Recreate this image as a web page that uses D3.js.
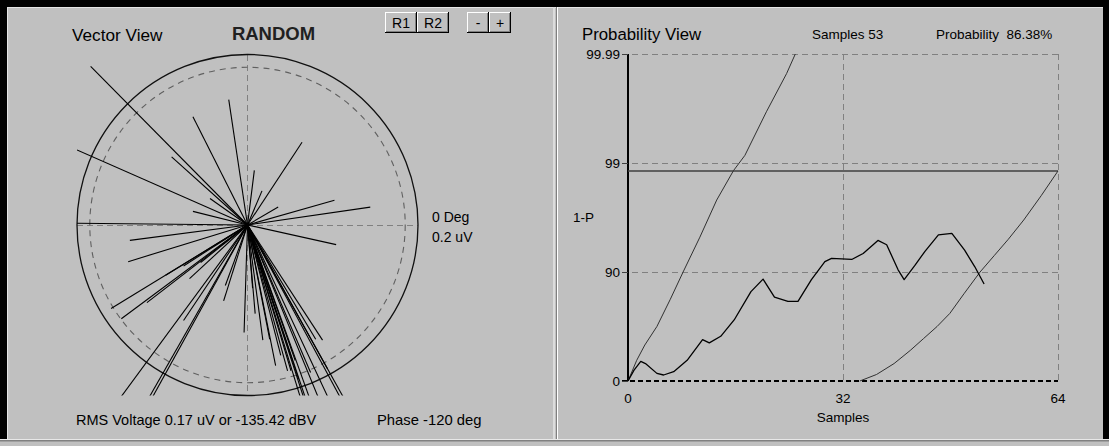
<!DOCTYPE html>
<html><head><meta charset="utf-8">
<script src="https://cdn.jsdelivr.net/npm/d3@7"></script>
<style>
html,body{margin:0;padding:0;background:#c0c0c0;overflow:hidden;}
svg{display:block;font-family:"Liberation Sans",Arial,sans-serif;}
</style>
</head><body>
<svg id="chart" width="1109" height="446"></svg>
<script>
// ---------------- DATA ----------------
// Vector view: 53 sample vectors, real / imaginary parts in uV
const vecRe = [-0.184,-0.200,-0.064,-0.022,-0.089,-0.044,-0.064,-0.200,0.064,0.008,0.017,0.036,0.102,0.144,
  -0.138,-0.140,-0.160,-0.148,-0.068,-0.026,-0.028,-0.075,-0.156,-0.121,-0.117,-0.004,-0.118,-0.075,-0.096,
  0.104,0.009,0.006,0.026,0.047,0.051,0.080,0.060,0.069,0.076,0.099,0.114,0.118,0.065,0.071,0.094,0.039,0.088,0.056,0.074,0.018,0.033,0.087,-0.055];
const vecIm = [0.186,0.088,0.127,0.147,0.080,0.031,0.016,0.002,0.097,0.064,0.040,0.021,0.029,0.021,
  -0.018,-0.043,-0.098,-0.110,-0.063,-0.071,-0.089,-0.112,-0.212,-0.212,-0.212,-0.126,-0.091,-0.048,-0.059,
  -0.023,-0.104,-0.074,-0.134,-0.171,-0.171,-0.134,-0.181,-0.212,-0.212,-0.212,-0.212,-0.212,-0.212,-0.212,-0.169,-0.153,-0.135,-0.159,-0.173,-0.135,-0.165,-0.212,-0.044];
const ringSolid = 0.2;      // uV, outer circle
const ringDashed = 0.185;   // uV, dashed circle

// Probability view (y in decade levels: 0 -> "0", 1 -> "90", 2 -> "99", 3 -> "99.99")
const walkSamples = [0,0.9,1.9,2.6,4.3,5.3,6.8,8.8,11.1,12.1,13.8,15.8,18.3,20.1,21.8,23.8,25.3,27.3,29.3,30.3,33.3,35.0,37.2,38.5,40.2,41.1,42.7,44.2,46.2,48.2,50.1,51.6,53];
const walkLevels  = [0,0.10,0.18,0.16,0.07,0.055,0.085,0.19,0.38,0.35,0.41,0.56,0.82,0.935,0.77,0.73,0.73,0.93,1.095,1.125,1.115,1.17,1.29,1.25,1.02,0.93,1.06,1.19,1.34,1.355,1.20,1.05,0.89];
const upperSamples = [0,1.3,2.5,4.3,6.3,8.2,10.7,13.2,15.7,17.4,20.6,23.6,24.9];
const upperLevels  = [0,0.19,0.33,0.5,0.75,1.0,1.32,1.66,1.93,2.07,2.47,2.82,3.0];
const lowerSamples = [34.5,37,39.6,42,44,46,47.9,50,52.4,54.5,56.6,58.9,61.5,64];
const lowerLevels  = [0,0.06,0.16,0.28,0.39,0.5,0.62,0.8,1.0,1.15,1.30,1.477,1.70,1.927];
const thresholdLevel = 1.927;
const yTickLevels = [0,1,2,3];
const yTickLabels = ["0","90","99","99.99"];
const xTickValues = [0,32,64];

const buttonLabels = ["R1","R2","-","+"];

// ---------------- DRAW ----------------
const svg = d3.select("#chart");
const W = 1109, H = 446;

// frame
svg.append("rect").attr("x",0).attr("y",0).attr("width",W).attr("height",H).attr("fill","#c0c0c0");
svg.append("rect").attr("x",0).attr("y",0).attr("width",W).attr("height",7).attr("fill","#000");
svg.append("rect").attr("x",0).attr("y",0).attr("width",7).attr("height",441).attr("fill","#000");
svg.append("rect").attr("x",1103).attr("y",0).attr("width",6).attr("height",441).attr("fill","#000");
// bevels
const bev = svg.append("g").attr("shape-rendering","crispEdges");
bev.append("line").attr("x1",7).attr("x2",1103).attr("y1",7.5).attr("y2",7.5).attr("stroke","#e4e4e4");
bev.append("line").attr("x1",7.5).attr("x2",7.5).attr("y1",7).attr("y2",440).attr("stroke","#e4e4e4");
bev.append("line").attr("x1",553.5).attr("x2",553.5).attr("y1",7).attr("y2",440).attr("stroke","#dcdcdc");
bev.append("line").attr("x1",554.5).attr("x2",554.5).attr("y1",7).attr("y2",440).attr("stroke","#dcdcdc");
bev.append("line").attr("x1",556.5).attr("x2",556.5).attr("y1",7).attr("y2",440).attr("stroke","#808080");
bev.append("line").attr("x1",557.5).attr("x2",557.5).attr("y1",7).attr("y2",440).attr("stroke","#ffffff");
bev.append("line").attr("x1",0).attr("x2",W).attr("y1",439.5).attr("y2",439.5).attr("stroke","#e8e8e8");
bev.append("line").attr("x1",0).attr("x2",W).attr("y1",440.5).attr("y2",440.5).attr("stroke","#808080");
bev.append("line").attr("x1",0).attr("x2",W).attr("y1",441.5).attr("y2",441.5).attr("stroke","#a0a0a0");

// ---------- Vector View ----------
const cx = 247.5, cy = 225, R = 170.5;
const rad = d3.scaleLinear().domain([0, ringSolid]).range([0, R]);
const vx = d3.scaleLinear().domain([-ringSolid, ringSolid]).range([cx - R, cx + R]);
const vy = d3.scaleLinear().domain([-ringSolid, ringSolid]).range([cy + R, cy - R]);

const defs = svg.append("defs");
defs.append("clipPath").attr("id","vclip").append("rect")
  .attr("x", vx(-ringSolid)).attr("y", vy(ringSolid))
  .attr("width", vx(ringSolid)-vx(-ringSolid)).attr("height", vy(-ringSolid)-vy(ringSolid));

const vg = svg.append("g");
// crosshair
vg.append("line").attr("x1",vx(-ringSolid)).attr("x2",vx(ringSolid)).attr("y1",vy(0)).attr("y2",vy(0))
  .attr("stroke","#808080").attr("stroke-dasharray","6,4").attr("shape-rendering","crispEdges");
vg.append("line").attr("x1",vx(0)).attr("x2",vx(0)).attr("y1",vy(ringSolid)).attr("y2",vy(-ringSolid))
  .attr("stroke","#808080").attr("stroke-dasharray","6,4").attr("shape-rendering","crispEdges");
vg.append("circle").attr("cx",vx(0)).attr("cy",vy(0)).attr("r",rad(ringDashed))
  .attr("fill","none").attr("stroke","#606060").attr("stroke-width",1.1).attr("stroke-dasharray","6,5");
vg.append("circle").attr("cx",vx(0)).attr("cy",vy(0)).attr("r",rad(ringSolid))
  .attr("fill","none").attr("stroke","#101010").attr("stroke-width",1.3);

const vecs = vecRe.map((re,i)=>({re, im: vecIm[i]}));
vg.append("g").attr("clip-path","url(#vclip)")
  .selectAll("line").data(vecs).join("line")
  .attr("x1",vx(0)).attr("y1",vy(0))
  .attr("x2",d=>vx(d.re)).attr("y2",d=>vy(d.im))
  .attr("stroke","#000").attr("stroke-width",1.1);

// texts left
svg.append("text").attr("x",72).attr("y",41).attr("font-size",17.2).text("Vector View");
svg.append("text").attr("x",273.5).attr("y",39.5).attr("text-anchor","middle").attr("font-size",18.5)
  .attr("font-weight","bold").attr("fill","#202020").text("RANDOM");
svg.append("text").attr("x",432).attr("y",222).attr("font-size",14).text("0 Deg");
svg.append("text").attr("x",432).attr("y",242).attr("font-size",14).text(ringSolid + " uV");
svg.append("text").attr("x",76).attr("y",425).attr("font-size",14.5).text("RMS Voltage 0.17 uV or -135.42 dBV");
svg.append("text").attr("x",377).attr("y",425).attr("font-size",14.8).text("Phase -120 deg");

// buttons
const btnX = [385, 417, 467, 488.5], btnW = [32, 31.5, 21.5, 22];
const bg = svg.append("g").attr("shape-rendering","crispEdges");
buttonLabels.forEach((lab,i)=>{
  const x0 = Math.round(btnX[i]), x1 = Math.round(btnX[i]+btnW[i]), y0 = 12, y1 = 33;
  bg.append("rect").attr("x",x0).attr("y",y0).attr("width",x1-x0).attr("height",y1-y0).attr("fill","#c0c0c0");
  bg.append("path").attr("d",`M${x0+0.5},${y1-1}V${y0+0.5}H${x1-1}`).attr("fill","none").attr("stroke","#fff");
  bg.append("path").attr("d",`M${x0},${y1-0.5}H${x1-0.5}V${y0}`).attr("fill","none").attr("stroke","#000");
  bg.append("path").attr("d",`M${x0+1},${y1-1.5}H${x1-1.5}V${y0+1}`).attr("fill","none").attr("stroke","#808080");
  svg.append("text").attr("x",(x0+x1)/2).attr("y",28).attr("text-anchor","middle").attr("font-size",14).text(lab);
});

// ---------- Probability View ----------
const x = d3.scaleLinear().domain([0,64]).range([628,1058]);
const y = d3.scaleLinear().domain([0,3]).range([381,54]);
const pg = svg.append("g");

// grid (dashed)
pg.append("g").selectAll("line").data(yTickLevels.filter(v=>v>0)).join("line")
  .attr("x1",x(0)-6).attr("x2",x(64)).attr("y1",d=>y(d)).attr("y2",d=>y(d))
  .attr("stroke","#808080").attr("stroke-dasharray","6,4").attr("shape-rendering","crispEdges");
pg.append("g").selectAll("line").data(xTickValues.filter(v=>v>0)).join("line")
  .attr("x1",d=>x(d)).attr("x2",d=>x(d)).attr("y1",y(3)).attr("y2",y(0))
  .attr("stroke","#808080").attr("stroke-dasharray","6,4").attr("shape-rendering","crispEdges");
// zero line
pg.append("line").attr("x1",x(0)-6).attr("x2",x(64)).attr("y1",y(0)).attr("y2",y(0))
  .attr("stroke","#000").attr("stroke-dasharray","5,3").attr("stroke-width",1.2).attr("shape-rendering","crispEdges");
// y axis line
pg.append("line").attr("x1",x(0)).attr("x2",x(0)).attr("y1",y(3)).attr("y2",y(0))
  .attr("stroke","#000").attr("stroke-width",1.2).attr("shape-rendering","crispEdges");
// ticks
pg.append("g").selectAll("line").data(yTickLevels).join("line")
  .attr("x1",x(0)-6).attr("x2",x(0)).attr("y1",d=>y(d)).attr("y2",d=>y(d))
  .attr("stroke","#404040").attr("shape-rendering","crispEdges");
// y labels
pg.append("g").selectAll("text").data(yTickLevels).join("text")
  .attr("x",x(0)-8).attr("y",d=>y(d)+5).attr("text-anchor","end").attr("font-size",13.5)
  .text((d,i)=>yTickLabels[i]);
// x labels
pg.append("g").selectAll("text").data(xTickValues).join("text")
  .attr("x",d=>x(d)).attr("y",403).attr("text-anchor","middle").attr("font-size",13.5).text(d=>d);
pg.append("text").attr("x",x(32)).attr("y",422).attr("text-anchor","middle").attr("font-size",13.5).text("Samples");
pg.append("text").attr("x",573).attr("y",222).attr("font-size",13.5).text("1-P");

// threshold
pg.append("line").attr("x1",x(0)).attr("x2",x(64)).attr("y1",y(thresholdLevel)).attr("y2",y(thresholdLevel))
  .attr("stroke","#404040").attr("stroke-width",1.4);

const line = d3.line().x(d=>x(d[0])).y(d=>y(d[1]));
pg.append("path").datum(upperSamples.map((s,i)=>[s,upperLevels[i]])).attr("d",line)
  .attr("fill","none").attr("stroke","#303030").attr("stroke-width",1);
pg.append("path").datum(lowerSamples.map((s,i)=>[s,lowerLevels[i]])).attr("d",line)
  .attr("fill","none").attr("stroke","#303030").attr("stroke-width",1);
pg.append("path").datum(walkSamples.map((s,i)=>[s,walkLevels[i]])).attr("d",line)
  .attr("fill","none").attr("stroke","#000").attr("stroke-width",1.3).attr("stroke-linejoin","round");

// titles right
svg.append("text").attr("x",582).attr("y",39.5).attr("font-size",16.8).text("Probability View");
svg.append("text").attr("x",812).attr("y",38.5).attr("font-size",13.5).text("Samples " + walkSamples[walkSamples.length-1]);
svg.append("text").attr("x",936).attr("y",38.5).attr("font-size",13.5).attr("xml:space","preserve").text("Probability  86.38%");
</script>
</body></html>
